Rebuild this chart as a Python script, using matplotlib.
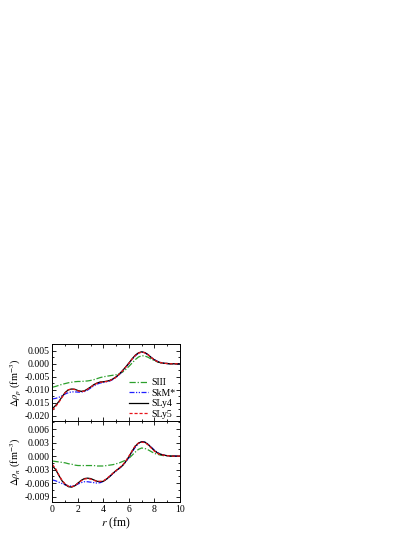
import matplotlib
matplotlib.use("Agg")
from matplotlib import pyplot as plt   # noqa: E402
from matplotlib.ticker import MultipleLocator  # noqa: E402

plt.rcParams["font.family"] = ["Liberation Serif", "DejaVu Serif"]
plt.rcParams["mathtext.fontset"] = "stix"

# ── data (r step 0.25 fm) ─────────────────────────────────────────────────────
r = [0.00, 0.25, 0.50, 0.75, 1.00, 1.25, 1.50, 1.75, 2.00, 2.25, 2.50, 2.75, 3.00, 3.25,
     3.50, 3.75, 4.00, 4.25, 4.50, 4.75, 5.00, 5.25, 5.50, 5.75, 6.00, 6.25, 6.50, 6.75,
     7.00, 7.25, 7.50, 7.75, 8.00, 8.25, 8.50, 8.75, 9.00, 9.25, 9.50, 9.75, 10.00]

labels = ["SIII", "SkM*", "SLy4", "SLy5"]

# proton density difference
drho_p_siii = [-0.0090, -0.0087, -0.0083, -0.0079, -0.0076, -0.0073, -0.0071, -0.0069, -0.0068,
               -0.0068, -0.0067, -0.0066, -0.0064, -0.0061, -0.0057, -0.0053, -0.0050, -0.0048,
               -0.0046, -0.0044, -0.0042, -0.0038, -0.0032, -0.0022, -0.0010, 0.0003, 0.0016,
               0.0026, 0.0031, 0.0030, 0.0025, 0.0018, 0.0012, 0.0007, 0.0004, 0.0002, 0.0001,
               0.0000, 0.0000, 0.0000, 0.0000]
drho_p_skm = [-0.0135, -0.0133, -0.0129, -0.0123, -0.0116, -0.0111, -0.0108, -0.0108, -0.0109,
              -0.0109, -0.0107, -0.0101, -0.0093, -0.0085, -0.0078, -0.0074, -0.0072, -0.0069,
              -0.0066, -0.0060, -0.0052, -0.0041, -0.0028, -0.0014, 0.0001, 0.0017, 0.0031,
              0.0041, 0.0045, 0.0042, 0.0035, 0.0025, 0.0016, 0.0009, 0.0005, 0.0002, 0.0001,
              0.0000, 0.0000, 0.0000, 0.0000]
drho_p_sly4 = [-0.0172, -0.0160, -0.0145, -0.0127, -0.0110, -0.0100, -0.0097, -0.0098, -0.0103,
               -0.0106, -0.0104, -0.0097, -0.0089, -0.0080, -0.0074, -0.0070, -0.0069, -0.0067,
               -0.0064, -0.0058, -0.0050, -0.0039, -0.0026, -0.0012, 0.0003, 0.0019, 0.0033,
               0.0042, 0.0046, 0.0043, 0.0035, 0.0024, 0.0015, 0.0008, 0.0004, 0.0002, 0.0001,
               0.0000, 0.0000, 0.0000, 0.0000]
drho_p_sly5 = [-0.0178, -0.0164, -0.0148, -0.0129, -0.0111, -0.0100, -0.0097, -0.0099, -0.0104,
               -0.0107, -0.0105, -0.0098, -0.0090, -0.0081, -0.0075, -0.0071, -0.0070, -0.0068,
               -0.0065, -0.0059, -0.0051, -0.0040, -0.0027, -0.0013, 0.0002, 0.0018, 0.0032,
               0.0041, 0.0045, 0.0042, 0.0035, 0.0024, 0.0015, 0.0008, 0.0004, 0.0002, 0.0001,
               0.0000, 0.0000, 0.0000, 0.0000]

# neutron density difference
drho_n_siii = [-0.0011, -0.0012, -0.0013, -0.0014, -0.0015, -0.0017, -0.0018, -0.0020, -0.0021,
               -0.0021, -0.0021, -0.0021, -0.0021, -0.0021, -0.0022, -0.0022, -0.0022, -0.0021,
               -0.0020, -0.0019, -0.0017, -0.0015, -0.0012, -0.0009, -0.0005, 0.0002, 0.0009,
               0.0015, 0.0018, 0.0017, 0.0014, 0.0010, 0.0006, 0.0004, 0.0002, 0.0001, 0.0001,
               0.0000, 0.0000, 0.0000, 0.0000]
drho_n_skm = [-0.0053, -0.0055, -0.0058, -0.0061, -0.0064, -0.0066, -0.0067, -0.0065, -0.0062,
              -0.0059, -0.0057, -0.0057, -0.0058, -0.0059, -0.0060, -0.0059, -0.0056, -0.0051,
              -0.0045, -0.0039, -0.0033, -0.0027, -0.0021, -0.0013, -0.0003, 0.0009, 0.0020,
              0.0028, 0.0032, 0.0031, 0.0027, 0.0020, 0.0013, 0.0008, 0.0004, 0.0002, 0.0001,
              0.0000, 0.0000, 0.0000, 0.0000]
drho_n_sly4 = [-0.0022, -0.0030, -0.0043, -0.0055, -0.0063, -0.0068, -0.0069, -0.0066, -0.0060,
               -0.0054, -0.0050, -0.0049, -0.0050, -0.0053, -0.0056, -0.0057, -0.0056, -0.0051,
               -0.0045, -0.0038, -0.0032, -0.0027, -0.0021, -0.0012, -0.0001, 0.0011, 0.0022,
               0.0029, 0.0032, 0.0031, 0.0026, 0.0019, 0.0012, 0.0007, 0.0004, 0.0002, 0.0001,
               0.0000, 0.0000, 0.0000, 0.0000]
drho_n_sly5 = [-0.0019, -0.0028, -0.0042, -0.0054, -0.0062, -0.0067, -0.0068, -0.0066, -0.0060,
               -0.0055, -0.0051, -0.0050, -0.0051, -0.0054, -0.0056, -0.0056, -0.0055, -0.0050,
               -0.0044, -0.0038, -0.0032, -0.0026, -0.0020, -0.0011, 0.0000, 0.0012, 0.0023,
               0.0029, 0.0031, 0.0030, 0.0025, 0.0018, 0.0011, 0.0006, 0.0003, 0.0002, 0.0001,
               0.0000, 0.0000, 0.0000, 0.0000]

styles = [
    dict(color="#2ca02c", ls=(0, (5, 1.5, 1, 1.5))),
    dict(color="#1f1fff", ls=(0, (4, 1.2, 1, 1.2, 1, 1.2))),
    dict(color="black", ls="-"),
    dict(color="#e8141a", ls=(0, (2.5, 1.5))),
]

# ── figure ────────────────────────────────────────────────────────────────────
fig = plt.figure(figsize=(4.15, 5.37), dpi=100)
ax_p = fig.add_axes([0.1265, 0.216, 0.307, 0.1434])
ax_n = fig.add_axes([0.1265, 0.0652, 0.307, 0.1508])

fs = 7
for ax, series in ((ax_p, [drho_p_siii, drho_p_skm, drho_p_sly4, drho_p_sly5]),
                   (ax_n, [drho_n_siii, drho_n_skm, drho_n_sly4, drho_n_sly5])):
    for vals, lab, st in zip(series, labels, styles):
        ax.plot(r, vals, lw=0.9, label=lab, **st)
    ax.set_xlim(0, 10)
    ax.xaxis.set_major_locator(MultipleLocator(2))
    ax.xaxis.set_minor_locator(MultipleLocator(1))
    ax.tick_params(which="both", direction="in", top=True, right=True,
                   labelsize=fs, width=0.6, pad=2)
    ax.tick_params(which="major", length=3)
    ax.tick_params(which="minor", length=1.6)
    for sp in ax.spines.values():
        sp.set_linewidth(0.7)

ax_p.set_ylim(-0.022, 0.0076)
ax_p.yaxis.set_major_locator(MultipleLocator(0.005))
ax_p.yaxis.set_minor_locator(MultipleLocator(0.0025))
ax_p.yaxis.set_major_formatter(lambda v, p: f"{v:.3f}".replace("-0.000", "0.000"))
ax_p.tick_params(labelbottom=False)
ax_p.set_ylabel(r"$\Delta\rho_p$ (fm$^{-3}$)", fontsize=7.5, labelpad=1)
ax_p.legend(loc="upper left", bbox_to_anchor=(0.565, 0.62), frameon=False, fontsize=fs,
            borderpad=0, handlelength=1.9, handletextpad=0.4, labelspacing=0.15)

ax_n.set_ylim(-0.0102, 0.0078)
ax_n.yaxis.set_major_locator(MultipleLocator(0.003))
ax_n.yaxis.set_minor_locator(MultipleLocator(0.0015))
ax_n.yaxis.set_major_formatter(lambda v, p: f"{v:.3f}".replace("-0.000", "0.000"))
ax_n.set_ylabel(r"$\Delta\rho_n$ (fm$^{-3}$)", fontsize=7.5, labelpad=1)
ax_n.set_xlabel(r"$r$ (fm)", fontsize=8.5, labelpad=1)

fig.align_ylabels([ax_p, ax_n])
fig.savefig("out.png", dpi=100)
